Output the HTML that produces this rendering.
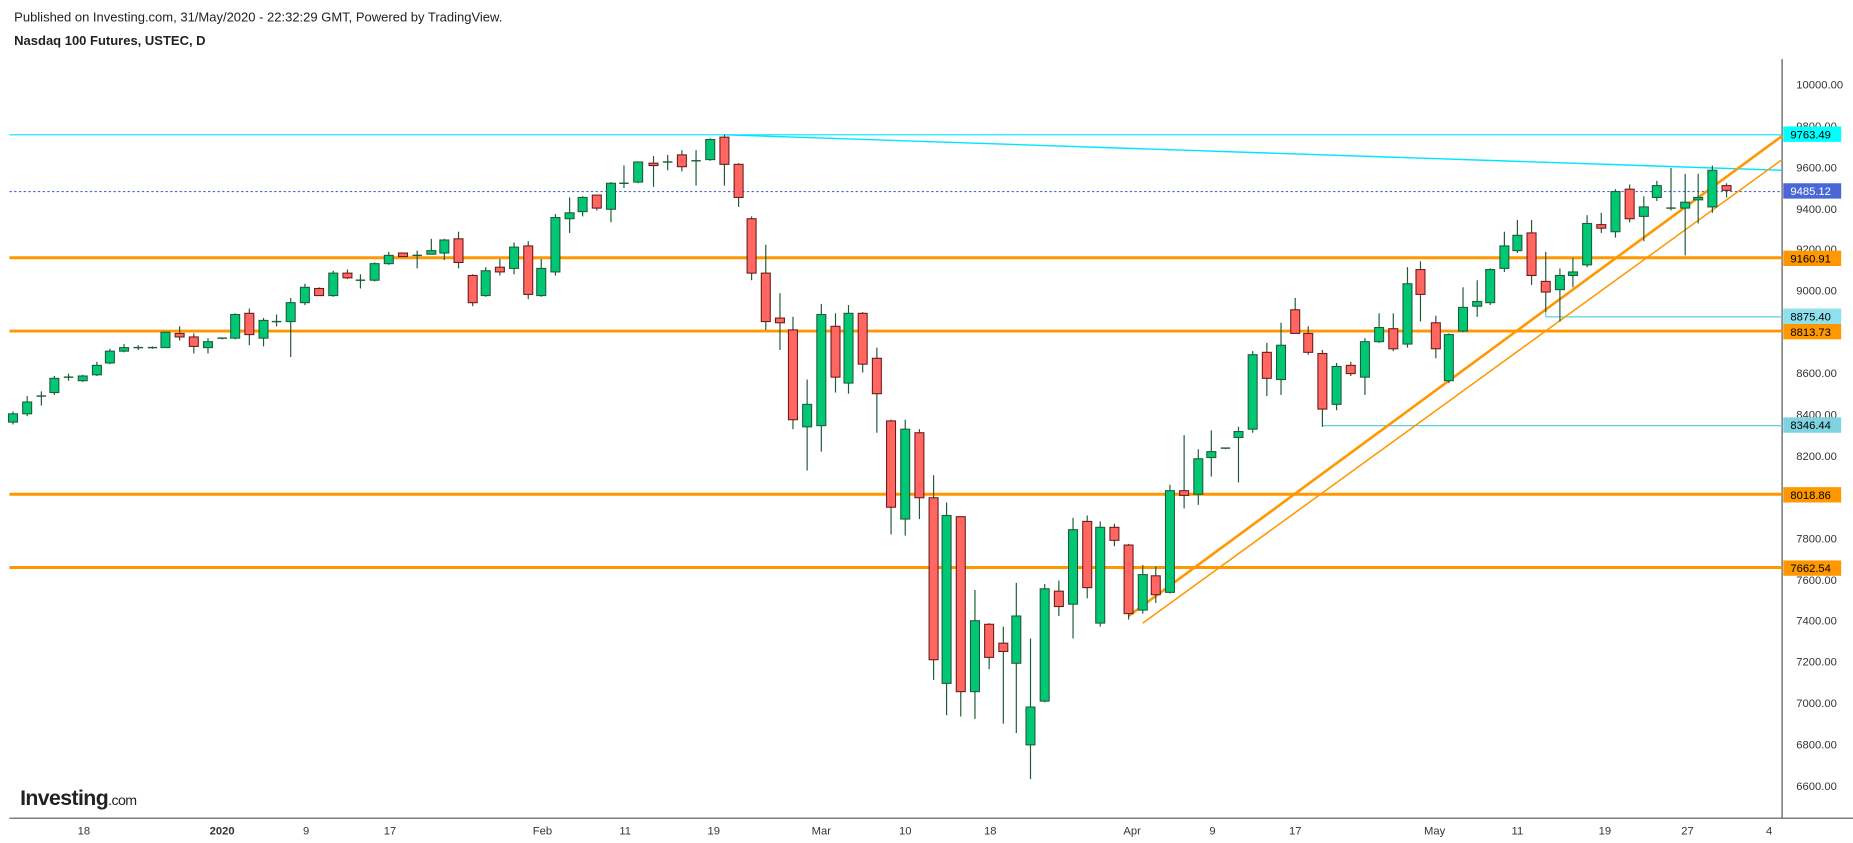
<!DOCTYPE html>
<html><head><meta charset="utf-8"><style>
html,body{margin:0;padding:0;background:#fff;overflow:hidden}
svg{display:block}
text{font-family:"Liberation Sans",sans-serif}
</style></head><body>
<svg id="s" width="1853" height="843" viewBox="0 0 1568 713" preserveAspectRatio="none" xmlns="http://www.w3.org/2000/svg">
<rect width="1568" height="713" fill="#fff"/>
<text x="12" y="18" font-size="11" fill="#222">Published on Investing.com, 31/May/2020 - 22:32:29 GMT, Powered by TradingView.</text>
<text x="12" y="38" font-size="11" font-weight="bold" fill="#222">Nasdaq 100 Futures, USTEC, D</text>
<line x1="1508" y1="50" x2="1508" y2="692" stroke="#555" stroke-width="1"/>
<line x1="8" y1="692" x2="1568" y2="692" stroke="#555" stroke-width="1"/>
<g id="lines">
<line x1="8" y1="114" x2="1508" y2="114" stroke="#00e5ff" stroke-width="1"/>
<line x1="613" y1="114" x2="1508" y2="144" stroke="#00e5ff" stroke-width="1.2"/>
<line x1="8" y1="162" x2="1508" y2="162" stroke="#4a67d6" stroke-width="1" stroke-dasharray="2,2"/>
<line x1="8" y1="218" x2="1508" y2="218" stroke="#ff9800" stroke-width="2.5"/>
<line x1="8" y1="280" x2="1508" y2="280" stroke="#ff9800" stroke-width="2.5"/>
<line x1="8" y1="418" x2="1508" y2="418" stroke="#ff9800" stroke-width="2.5"/>
<line x1="8" y1="480" x2="1508" y2="480" stroke="#ff9800" stroke-width="2.5"/>
<line x1="1308" y1="268" x2="1508" y2="268" stroke="#5ccfe0" stroke-width="1"/>
<line x1="1308" y1="262" x2="1308" y2="268" stroke="#5ccfe0" stroke-width="1"/>
<line x1="1119" y1="360" x2="1508" y2="360" stroke="#5ccfe0" stroke-width="1"/>
<line x1="955" y1="521" x2="1508" y2="115" stroke="#ff9800" stroke-width="2.2"/>
<line x1="967" y1="527" x2="1508" y2="135" stroke="#ff9800" stroke-width="1.3"/>
</g>
<g id="c"></g>
<g font-size="9.5" fill="#333">
<text x="1520" y="75">10000.00</text>
<text x="1520" y="110">9800.00</text>
<text x="1520" y="145">9600.00</text>
<text x="1520" y="180">9400.00</text>
<text x="1520" y="214">9200.00</text>
<text x="1520" y="249">9000.00</text>
<text x="1520" y="284">8800.00</text>
<text x="1520" y="319">8600.00</text>
<text x="1520" y="354">8400.00</text>
<text x="1520" y="389">8200.00</text>
<text x="1520" y="424">8000.00</text>
<text x="1520" y="459">7800.00</text>
<text x="1520" y="494">7600.00</text>
<text x="1520" y="528">7400.00</text>
<text x="1520" y="563">7200.00</text>
<text x="1520" y="598">7000.00</text>
<text x="1520" y="633">6800.00</text>
<text x="1520" y="668">6600.00</text>
</g>
<g font-size="9.5">
<rect x="1509" y="107" width="49" height="13" fill="#00ffff"/><text x="1515" y="117" fill="#000">9763.49</text>
<rect x="1509" y="155" width="49" height="13" fill="#4a67d6"/><text x="1515" y="165" fill="#fff">9485.12</text>
<rect x="1509" y="212" width="49" height="13" fill="#ff9800"/><text x="1515" y="222" fill="#000">9160.91</text>
<rect x="1509" y="261" width="49" height="13" fill="#8ee0ec"/><text x="1515" y="271" fill="#000">8875.40</text>
<rect x="1509" y="274" width="49" height="13" fill="#ff9800"/><text x="1515" y="284" fill="#000">8813.73</text>
<rect x="1509" y="353" width="49" height="13" fill="#7fd3e0"/><text x="1515" y="363" fill="#000">8346.44</text>
<rect x="1509" y="412" width="49" height="13" fill="#ff9800"/><text x="1515" y="422" fill="#000">8018.86</text>
<rect x="1509" y="474" width="49" height="13" fill="#ff9800"/><text x="1515" y="484" fill="#000">7662.54</text>
</g>
<g font-size="9.5" fill="#333" text-anchor="middle">
<text x="71" y="706">18</text>
<text x="188" y="706" font-weight="bold">2020</text>
<text x="259" y="706">9</text>
<text x="330" y="706">17</text>
<text x="459" y="706">Feb</text>
<text x="529" y="706">11</text>
<text x="604" y="706">19</text>
<text x="695" y="706">Mar</text>
<text x="766" y="706">10</text>
<text x="838" y="706">18</text>
<text x="958" y="706">Apr</text>
<text x="1026" y="706">9</text>
<text x="1096" y="706">17</text>
<text x="1214" y="706">May</text>
<text x="1284" y="706">11</text>
<text x="1358" y="706">19</text>
<text x="1428" y="706">27</text>
<text x="1497" y="706">4</text>
</g>
<text x="17" y="681" font-size="18" font-weight="bold" fill="#222" letter-spacing="-0.5">Investing<tspan font-size="12" font-weight="normal">.com</tspan></text>
</svg>
<script>
var d=[[11,'g',350,357,348,359],[23,'g',340,350,335,352],[35,'d',335,336,331,343],[46,'g',320,332,318,334],[58,'d',319,320,316,322],[70,'g',318,322,317,323],[82,'g',309,317,306,318],[93,'g',297,307,295,308],[105,'g',294,297,291,298],[117,'d',294,295,292,296],[129,'d',294,295,293,295],[140,'g',281,294,281,294],[152,'r',282,285,276,288],[164,'r',285,293,282,299],[176,'g',289,294,286,299],[188,'d',286,287,286,287],[199,'g',266,286,265,287],[211,'r',265,283,261,292],[223,'g',271,286,269,293],[234,'d',272,273,266,276],[246,'g',256,272,252,302],[258,'g',243,256,240,258],[270,'r',244,250,243,250],[282,'g',231,250,229,251],[294,'r',231,235,228,236],[305,'d',237,238,232,244],[317,'g',223,237,222,238],[329,'g',216,223,213,224],[341,'r',214,217,214,217],[353,'d',216,217,212,227],[365,'g',212,215,202,215],[376,'g',203,214,202,220],[388,'r',202,222,196,227],[400,'r',233,256,232,259],[411,'g',229,250,226,251],[423,'r',226,230,219,233],[435,'g',209,227,205,232],[447,'r',208,249,204,253],[458,'g',227,250,219,251],[470,'g',184,230,181,233],[482,'g',180,185,167,197],[493,'g',167,179,166,183],[505,'r',165,176,165,178],[517,'g',155,177,154,188],[528,'d',155,156,140,159],[540,'g',137,154,137,155],[553,'r',138,140,132,158],[565,'d',137,138,131,144],[577,'r',131,141,127,145],[589,'d',136,137,127,157],[601,'g',118,135,117,136],[613,'r',116,139,114,157],[625,'r',139,167,138,175],[636,'r',185,231,183,237],[648,'r',231,272,207,279],[660,'r',269,273,248,296],[671,'r',279,355,268,363],[683,'g',342,361,321,398],[695,'g',266,360,257,382],[707,'r',276,319,265,332],[718,'g',265,324,258,333],[730,'r',265,308,264,315],[742,'r',303,333,294,366],[754,'r',356,429,355,452],[766,'g',363,439,355,453],[778,'r',366,421,363,439],[790,'r',421,558,402,575],[801,'g',436,578,425,605],[813,'r',437,585,437,606],[825,'g',525,585,499,608],[837,'r',528,556,527,566],[849,'r',544,551,530,612],[860,'g',521,561,493,620],[872,'g',598,630,540,659],[884,'g',498,593,494,594],[896,'r',500,513,491,521],[908,'g',448,511,438,540],[920,'r',441,497,436,506],[931,'g',446,527,441,530],[943,'r',446,457,443,462],[955,'r',461,519,460,524],[967,'g',486,516,478,519],[978,'r',487,503,479,510],[990,'g',415,501,410,502],[1002,'r',415,419,368,430],[1014,'g',388,418,380,427],[1025,'g',382,387,364,403],[1037,'d',379,380,379,380],[1048,'g',365,370,361,408],[1060,'g',300,363,297,366],[1072,'r',298,320,290,335],[1084,'g',292,321,273,334],[1096,'r',262,282,252,282],[1107,'r',282,298,276,300],[1119,'r',299,346,296,361],[1131,'g',310,342,307,347],[1143,'r',309,316,306,318],[1155,'g',289,319,286,334],[1167,'g',277,289,265,290],[1179,'r',278,295,265,297],[1191,'g',240,291,226,294],[1202,'r',228,249,221,272],[1215,'r',273,295,267,303],[1226,'g',283,322,282,324],[1238,'g',260,280,243,281],[1250,'g',255,259,237,268],[1261,'g',228,256,227,258],[1273,'g',208,227,196,230],[1284,'g',199,212,186,214],[1296,'r',197,233,186,241],[1308,'r',238,247,213,264],[1320,'g',233,245,227,272],[1331,'g',230,233,218,243],[1343,'g',189,224,182,226],[1355,'r',190,193,180,197],[1367,'g',162,196,160,201],[1379,'r',160,185,156,188],[1391,'g',175,183,166,204],[1402,'g',157,167,153,170],[1414,'d',176,177,142,178],[1426,'g',171,176,147,216],[1437,'g',167,169,147,189],[1449,'g',144,175,140,180],[1461,'r',157,161,155,167]];
var h='';
d.forEach(function(c){
var x=c[0],t=c[1];
h+='<line x1="'+x+'" y1="'+c[4]+'" x2="'+x+'" y2="'+c[5]+'" stroke="#1e5b38" stroke-width="1"/>';
if(t=='d'){h+='<line x1="'+(x-4)+'" y1="'+c[2]+'" x2="'+(x+4)+'" y2="'+c[2]+'" stroke="#1e5b38" stroke-width="1.2"/>';}
else{var f=t=='g'?'#00c774':'#ff6760',s=t=='g'?'#1e5b38':'#6b1a1a';
h+='<rect x="'+(x-3.8)+'" y="'+c[2]+'" width="7.6" height="'+Math.max(1.5,c[3]-c[2])+'" fill="'+f+'" stroke="'+s+'" stroke-width="0.9"/>';}
});
document.getElementById('c').innerHTML=h;
</script>
</body></html>
